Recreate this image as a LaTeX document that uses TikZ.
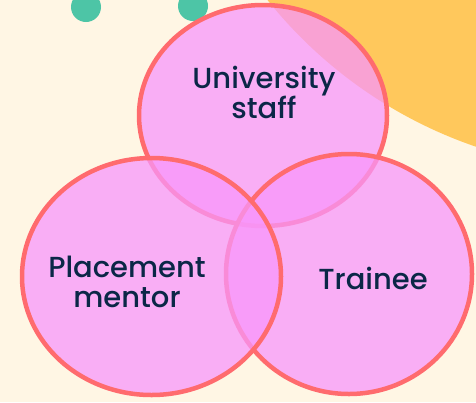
\documentclass[tikz,border=0pt]{standalone}
\usepackage{fontspec}
\setmainfont{Poppins Medium}
\usetikzlibrary{shapes.geometric}
\definecolor{creambg}{HTML}{FFF6E4}
\definecolor{sunorange}{HTML}{FFC85C}
\definecolor{tealdot}{HTML}{4DC5A6}
\definecolor{vennfill}{HTML}{F896FB}
\definecolor{vennline}{HTML}{FF6B6E}
\definecolor{navytext}{HTML}{0B2747}
\tikzset{
  venn/.style={ellipse, draw=vennline, line width=4.5pt, fill=vennfill, fill opacity=0.75, draw opacity=1, inner sep=0pt, outer sep=0pt},
  lbl/.style={text=navytext, font=\fontsize{29}{30}\selectfont, align=center, inner sep=0pt}
}
\begin{document}
\begin{tikzpicture}[x=1pt,y=-1pt]
\useasboundingbox (0,0) rectangle (476,402);
\begin{scope}
\clip (0,0) rectangle (476,402);
\fill[creambg] (0,0) rectangle (476,402);
\fill[sunorange] (623,-284) circle (455pt);
\fill[tealdot] (86,7) circle (15pt);
\fill[tealdot] (193,6) circle (15pt);
\node[venn, minimum width=248pt, minimum height=221pt] (uni) at (263,115.5) {};
\node[venn, minimum width=246pt, minimum height=240pt] (trainee) at (349,274) {};
\node[venn, minimum width=259pt, minimum height=237pt] (mentor) at (151.5,276.5) {};
\end{scope}
\node[lbl, anchor=base] (unilbl) at (264,118) {University\\staff};
\node[lbl, anchor=base] (mentorlbl) at (127,307) {Placement\\mentor};
\node[lbl, anchor=base] (traineelbl) at (373,289) {Trainee};
\end{tikzpicture}
\end{document}
